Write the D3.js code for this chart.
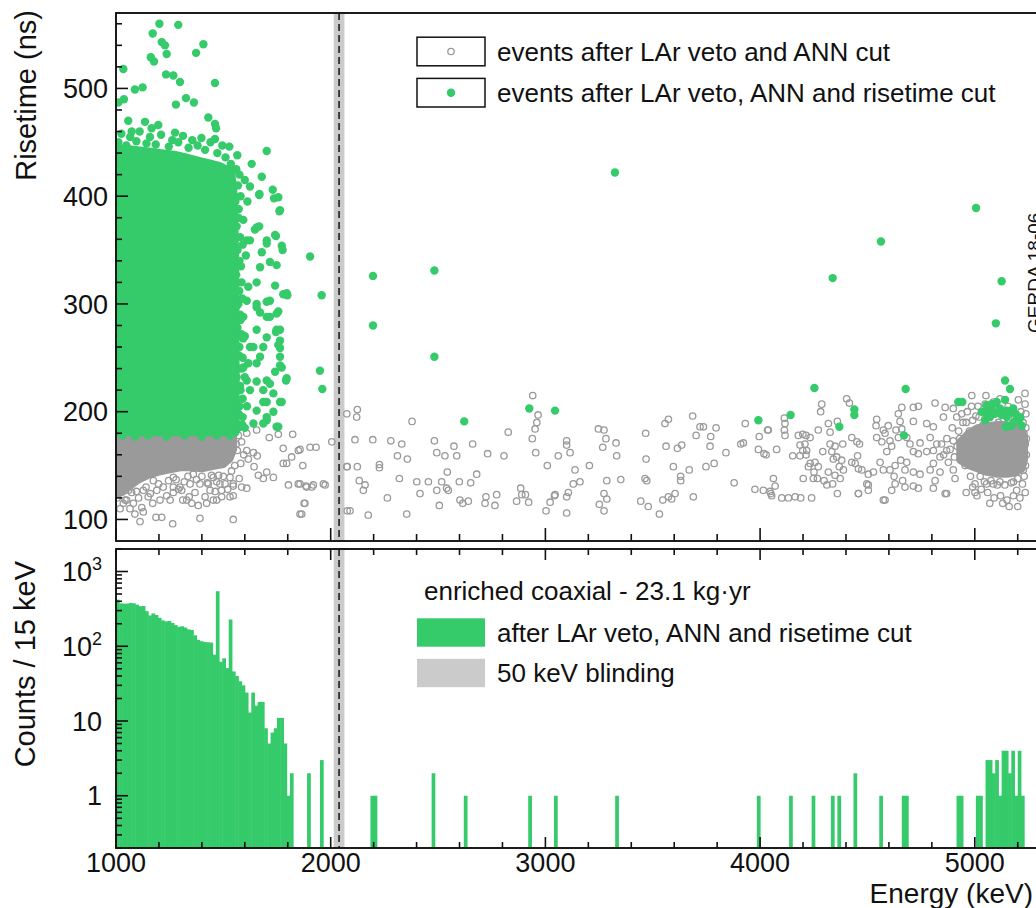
<!DOCTYPE html>
<html>
<head>
<meta charset="utf-8">
<script src="https://cdn.jsdelivr.net/npm/d3@7"></script>
<style>
html, body { margin: 0; padding: 0; background: #fff; }
svg { display: block; font-family: "Liberation Sans", Arial, Helvetica, sans-serif; }
</style>
</head>
<body>
<svg id="chart" width="1036" height="908"></svg>
<script>
// ---------------- data ----------------
const energyLabels = [1000, 2000, 3000, 4000, 5000];
const riseLabels = [100, 200, 300, 400, 500];
const countLabels = [1, 10, 100, 1000];
const qbb = 2039;                      // keV
const blindWindow = [2014, 2064];      // 50 keV blinded window
const exposureText = "enriched coaxial - 23.1 kg\u00b7yr";

// saturated population of risetime-accepted events (marker centres: upper / lower risetime edge)
const denseGreenEnergy = [1000, 1040, 1080, 1120, 1160, 1200, 1240, 1280, 1320, 1360, 1400, 1440, 1480, 1520, 1538, 1548, 1554, 1556];
const denseGreenHigh   = [443, 444, 443, 442, 441, 440, 439, 438, 436, 434, 432, 430, 428, 424, 418, 400, 340, 260];
const denseGreenLow    = [181, 181, 181, 181, 181, 181, 181, 181, 181, 181, 181, 181, 181, 181, 181, 181, 181, 181];

// saturated population of events before the risetime cut (below the cut)
const denseGrayEnergy = [1000, 1030, 1060, 1100, 1150, 1200, 1250, 1300, 1350, 1400, 1450, 1500, 1530, 1548];
const denseGrayHigh   = [178, 178, 178, 178, 178, 178, 178, 178, 178, 178, 178, 178, 178, 178];
const denseGrayLow    = [123, 125, 130, 136, 141, 144, 146, 148, 148, 147, 149, 151, 156, 165];

// alpha population around 5.1-5.2 MeV
const alphaGrayEnergy = [4930, 4970, 5010, 5050, 5100, 5150, 5190, 5220, 5232];
const alphaGrayHigh   = [172, 180, 185, 187, 188, 188, 186, 183, 176];
const alphaGrayLow    = [155, 150, 147, 144, 142, 142, 143, 147, 156];

// individual events after LAr veto, ANN and risetime cut [energy keV, risetime ns]
const greenEvents = [
[1202,560],[1290,559],[1171,551],[1213,543],[1228,540],[1236,532],[1407,541],[1373,533],[1162,529],[1177,525],
[1034,518],[1233,513],[1267,512],[1298,506],[1461,505],[1088,499],[1124,501],[1011,487],[1037,490],[1326,491],
[1363,487],[1279,485],[1430,473],[1461,467],[1466,463],[1057,470],[1135,469],[1197,466],[1166,463],[1073,460],
[1275,459],[1011,450],[1461,453],[1528,446],[1565,438],[1702,442],[1632,430],[1679,418],[1624,409],[1667,401],
[1730,406],[1736,398],[1756,399],[1764,387],[1761,386],[1612,395],[1668,402],[1593,378],[1647,369],[1655,371],
[1667,372],[1609,359],[1624,359],[1702,359],[1702,356],[1745,363],[1741,364],[1772,354],[1776,350],[1679,348],
[1904,344],[1717,339],[1748,336],[1671,334],[1795,310],[1779,309],[1798,308],[1741,317],[1655,320],[1616,316],
[1717,303],[1655,300],[1702,302],[1609,303],[1756,293],[1671,292],[1717,288],[1748,291],[1702,288],[1593,288],
[1655,297],[1748,276],[1655,276],[1764,276],[1745,274],[1702,269],[1585,272],[1764,266],[1756,262],[1764,259],
[1686,260],[1624,260],[1640,260],[1671,251],[1764,251],[1655,245],[1616,245],[1764,243],[1772,241],[1593,241],
[1741,237],[1795,231],[1792,229],[1600,232],[1609,229],[1702,229],[1655,228],[1717,226],[1624,220],[1686,220],
[1733,217],[1764,209],[1772,209],[1686,209],[1702,209],[1655,201],[1733,200],[1702,195],[1702,192],[1640,189],
[1686,189],[1756,186],[1748,186],
[1575,420],[1580,400],[1570,380],[1590,355],[1575,340],[1585,320],[1570,300],[1580,285],[1575,260],[1590,250],
[1570,240],[1580,220],[1575,205],[1590,195],[1570,185],[1600,185],[1610,205],[1600,270],[1605,345],[1600,415],
[1008,449],[1025,458],[1048,447],[1066,455],[1095,451],[1110,460],[1142,449],[1158,455],[1185,448],[1210,457],
[1246,446],[1262,452],[1290,450],[1312,456],[1338,445],[1355,452],[1380,447],[1398,454],[1415,443],[1440,450],
[1472,440],[1495,447],[1510,436],[1535,430],[1548,424],
[1560,425],[1568,410],[1556,395],[1572,388],[1562,372],[1578,362],[1566,350],[1582,335],[1560,327],[1574,312],
[1588,305],[1562,298],[1578,290],[1566,278],[1592,268],[1558,262],[1574,252],[1586,240],[1562,232],[1578,224],
[1590,212],[1560,210],[1572,198],[1588,188],[1558,190],
[1030,178],[1090,177],[1150,178],[1235,177],[1320,178],[1400,177],[1470,178],[1530,178],
[1958,308],[1950,238],[1961,221],
[2197,326],[2197,280],[2483,331],[2483,251],[2622,191],[2925,203],[3045,201],[3324,422],[3992,192],[4142,197],
[4253,222],[4338,324],[4369,186],[4439,202],[4439,197],[4563,358],[4670,178],[4678,221],[4923,209],[4942,209],
[5006,389],[5125,321],[5098,282],[5141,229],[5164,221],
[5032,200],[5055,198],[5071,204],[5086,207],[5102,209],[5048,192],[5071,195],[5094,198],[5141,211],[5149,201],
[5172,201],[5188,198],[5211,195],[5145,186],[5172,187],[5219,187],[5195,192],[5055,206],[5079,207],[5063,197],
[5086,200],[5117,203],[5149,195],[5164,200],[5179,203],[5195,197],[5211,194],[5179,190],[5149,186],[5125,197]
];

// individual events after LAr veto and ANN cut [energy keV, risetime ns]
const grayEvents = [
[1609,180],[1655,183],[1714,176],[1756,179],[1823,179],[1779,166],[1849,164],[1904,167],[1932,167],[2005,172],
[2075,198],[2075,149],[2077,108],[1870,150],[1795,152],[1779,152],[1818,158],[1702,144],[1733,139],[1686,138],
[1663,141],[1643,149],[1616,156],[1581,152],[1609,164],[1640,162],[1658,159],[1565,164],[1574,138],[1609,129],
[1546,131],[1585,130],[1531,121],[1546,122],[1803,132],[1849,133],[1885,131],[1912,130],[1966,133],[1974,132],
[1876,115],[1857,105],[1546,100],[1391,101],[1264,96],[1186,102],[1213,102],[1112,98],[1127,107],[1171,115],
[1252,118],[1353,115],[1383,113],[1422,115],[1469,118],[1492,121],[1453,118],[1065,110],[1088,105],[1484,133],
[1492,127],[1469,135],[1430,133],[1311,118],[1341,121],[1267,125],[1345,133],[1298,130],
[1042,118],[1081,115],[1120,111],[1150,121],[1190,127],[1205,118],[1236,122],[1267,130],[1306,127],[1329,118],
[1368,125],[1391,133],[1415,121],[1438,127],[1508,133],[1531,139],[1546,133],[1453,139],[1360,142],[1267,139],
[1174,136],[1127,127],[1073,125],[1034,115],[1019,110],
[1005,120],[1015,125],[1050,118],[1058,127],[1095,126],[1105,120],[1140,130],[1160,124],[1198,133],[1220,130],
[1245,136],[1280,137],[1290,128],[1318,135],[1335,140],[1375,137],[1400,140],[1425,134],[1445,141],[1462,126],
[1478,141],[1500,140],[1520,128],[1538,145],[1553,150],[1560,170],[1585,172],[1595,160],[1570,178],
[1857,165],[1857,133],[1888,130],[1919,132],[1880,115],[1865,105],[2124,202],[2121,195],[2077,149],[2113,174],
[2124,149],[2133,136],[2152,127],[2160,132],[2090,108],[2175,104],[2196,174],[2227,151],[2227,148],[2264,120],
[2280,173],[2320,138],[2311,159],[2331,170],[2357,156],[2354,105],[2379,191],[2401,135],[2416,124],[2455,135],
[2483,173],[2494,162],[2494,127],[2506,113],[2517,135],[2532,159],[2540,129],[2548,127],[2543,144],[2574,168],
[2587,159],[2599,135],[2602,118],[2615,115],[2641,117],[2652,134],[2661,170],[2680,142],[2723,121],[2719,115],
[2731,161],[2765,113],[2773,123],[2807,159],[2827,181],[2866,117],[2885,129],[2890,123],[2907,123],[2922,116],
[2941,215],[2939,175],[2952,184],[2960,190],[2966,197],[2955,162],[3009,150],[3003,108],[3022,116],[3045,123],
[3042,122],[3060,159],[3099,106],[3099,121],[3099,169],[3099,173],[3115,162],[3107,125],[3130,133],[3138,146],
[3161,135],[3205,150],[3247,184],[3273,183],[3267,167],[3282,175],[3273,124],[3286,119],[3251,114],[3273,108],
[3286,136],[3329,171],[3332,159],[3351,137],[3467,180],[3469,156],[3464,138],[3472,136],[3444,117],[3479,112],
[3531,105],[3557,189],[3573,193],[3562,168],[3615,166],[3635,169],[3596,149],[3630,140],[3630,136],[3670,146],
[3604,124],[3573,121],[3547,118],[3588,119],[3686,196],[3702,178],[3689,121],[3720,186],
[4403,212],[4416,208],[4287,207],[4282,200],[4113,194],[4116,189],[4113,183],[4116,178],[3931,189],[4035,183],
[3736,186],[3795,185],[3770,177],[3767,168],[3748,149],[3786,152],[3841,162],[3879,134],[3910,170],[3922,171],
[3996,177],[3992,165],[4018,161],[4028,160],[4038,183],[4077,165],[3976,128],[4015,127],[4046,126],[4054,122],
[4070,131],[4062,138],[4050,124],[4101,120],[4132,120],[4163,121],[4189,120],[4240,120],[4152,159],[4186,159],
[4199,164],[4209,170],[4186,169],[4178,178],[4199,179],[4214,178],[4233,176],[4233,152],[4256,153],[4271,149],
[4251,144],[4248,138],[4267,138],[4201,138],[4225,149],[4214,160],[4217,164],[4271,183],[4318,189],[4326,181],
[4360,191],[4326,170],[4349,168],[4385,170],[4357,158],[4341,156],[4380,155],[4388,146],[4369,149],[4349,141],
[4373,138],[4338,133],[4360,124],[4311,132],[4298,136],[4318,144],[4292,163],[4334,163],[4427,176],[4451,172],
[4463,170],[4454,159],[4443,152],[4427,153],[4458,147],[4474,146],[4504,142],[4528,144],[4497,133],[4504,127],
[4458,124],[4582,118],[4504,132],[4543,193],[4540,187],[4597,187],[4543,176],[4574,183],[4582,180],[4605,173],
[4567,172],[4590,163],[4613,168],[4644,176],[4633,183],[4652,191],[4660,204],[4644,198],[4660,184],[4714,204],
[4737,205],[4714,191],[4683,176],[4698,170],[4745,171],[4714,163],[4737,161],[4655,155],[4629,150],[4605,146],
[4624,140],[4629,133],[4613,127],[4574,146],[4559,153],[4683,153],[4675,146],[4714,144],[4745,142],[4714,131],
[4737,129],[4675,130],[4664,136],[4815,208],[4776,189],[4807,186],[4792,176],[4823,170],[4807,164],[4776,163],
[4807,152],[4838,158],[4792,146],[4838,144],[4815,136],[4862,124],[4807,129],[4900,146],[4908,138],[4877,153],
[4869,164],[4900,173],[4854,195],[4862,204],[4900,203],[4916,195],[4939,198],[4986,215],[5001,133],[5001,125],
[5055,133],[5086,133],[5117,135],[5180,135],[5195,127],[5226,146],[5226,153],[5052,215],[5048,207],[5117,212],
[5203,211],[5086,209],[5234,207],[5238,198],[5229,180],[5234,217],[4574,118],[4458,124],[4869,124],
[4960,190],[4975,182],[4990,192],[5020,195],[5040,188],[5110,190],[5130,185],[5160,180],[5200,182],[5235,170],
[5240,160],[5230,140],[5210,120],[5180,122],[5150,118],[5120,122],[5090,120],[5060,125],[5030,128],[4980,140],
[4955,150],[4940,160],[4930,175],[4960,125],[5160,112],[5200,112],
[4845,170],[4855,160],[4870,175],[4885,165],[4895,185],[4905,158],[4918,168],[4925,182],[4945,190],[4950,170],
[4965,200],[4970,158],[4985,205],[4995,150],[5005,196],[5015,205],[5025,140],[5040,200],[5045,135],[5065,200],
[5075,136],[5095,202],[5105,132],[5130,200],[5140,132],[5155,205],[5170,134],[5185,196],[5200,138],[5215,200],
[5225,190],[5238,185],[5240,175],[5236,150],[5222,133],[4990,130],[5010,122],[5070,115],[5130,115],[5235,125]
];

// energy spectrum after all cuts: 15 keV bins
const binWidth = 15;
const spectrumStart = 1000;
const spectrumCounts = [
420, 375, 372, 372, 380, 375, 360, 343, 345, 295, 258, 275, 262, 240, 222, 215, 218, 205, 192, 182,
185, 178, 168, 165, 140, 122, 117, 114, 113, 112, 77, 545, 62, 69, 51, 228, 46, 40, 34, 30,
24, 13, 24, 16, 18, 18, 8, 5, 7, 8, 11, 11, 5, 1, 2
];
// isolated bins at higher energy [bin low edge keV, counts]
const spectrumSparse = [
[1890,2],[1950,3],[2185,1],[2200,1],[2470,2],[2620,1],[2920,1],[3040,1],[3325,1],[3985,1],
[4135,1],[4240,1],[4330,1],[4360,1],[4435,2],[4555,1],[4660,1],[4675,1],[4915,1],[4930,1],
[5005,1],[5020,1],[5050,3],[5065,3],[5080,2],[5095,3],[5110,1],[5125,4],[5140,4],[5155,2],
[5170,4],[5185,1],[5200,4],[5215,1]
];

// ---------------- style ----------------
const GREEN = "#35ca6a";
const GRAY = "#9a9a9a";
const BLIND = "#cbcbcb";
const FONT_TICK = 27;
const FONT_TITLE = 28;
const FONT_LEG = 26;

// ---------------- layout & scales ----------------
const svg = d3.select("#chart");
const panelTop = { y0: 13, y1: 541 };
const panelBot = { y0: 549, y1: 848 };
const xE = d3.scaleLinear().domain([1000, 5300]).range([116, 1039.2]);
const yR = d3.scaleLinear().domain([80, 570]).range([panelTop.y1, panelTop.y0]);
const yC = d3.scaleLog().domain([0.2, 2000]).range([panelBot.y1, panelBot.y0]);
const xL = xE.range()[0], xR = xE.range()[1];

const defs = svg.append("defs");
defs.append("clipPath").attr("id", "clipTop").append("rect")
  .attr("x", xL).attr("y", panelTop.y0).attr("width", xR - xL).attr("height", panelTop.y1 - panelTop.y0);
defs.append("clipPath").attr("id", "clipBot").append("rect")
  .attr("x", xL).attr("y", panelBot.y0).attr("width", xR - xL).attr("height", panelBot.y1 - panelBot.y0);

// ---------------- blinding window ----------------
[panelTop, panelBot].forEach(p => {
  svg.append("rect").attr("x", xE(blindWindow[0])).attr("y", p.y0)
    .attr("width", xE(blindWindow[1]) - xE(blindWindow[0])).attr("height", p.y1 - p.y0)
    .attr("fill", BLIND);
});

// ---------------- top panel: risetime vs energy ----------------
const gTop = svg.append("g").attr("clip-path", "url(#clipTop)");

gTop.append("g").selectAll("circle").data(grayEvents).join("circle")
  .attr("cx", d => xE(d[0])).attr("cy", d => yR(d[1])).attr("r", 3.2)
  .attr("fill", "none").attr("stroke", GRAY).attr("stroke-width", 1.3);

function band(energy, high, low, color, width) {
  const rows = energy.map((e, i) => ({ e, hi: high[i], lo: low[i] }));
  const area = d3.area().x(d => xE(d.e)).y0(d => yR(d.lo)).y1(d => yR(d.hi));
  gTop.append("path").datum(rows).attr("d", area)
    .attr("fill", color).attr("stroke", color).attr("stroke-width", width)
    .attr("stroke-linejoin", "round");
}
band(denseGrayEnergy, denseGrayHigh, denseGrayLow, GRAY, 7);
band(alphaGrayEnergy, alphaGrayHigh, alphaGrayLow, GRAY, 7);
band(denseGreenEnergy, denseGreenHigh, denseGreenLow, GREEN, 8.4);

gTop.append("g").selectAll("circle").data(greenEvents).join("circle")
  .attr("cx", d => xE(d[0])).attr("cy", d => yR(d[1])).attr("r", 4.2)
  .attr("fill", GREEN);

// ---------------- bottom panel: spectrum ----------------
const bins = spectrumCounts.map((c, i) => [spectrumStart + i * binWidth, c])
  .concat(spectrumSparse).filter(d => d[1] > 0);
svg.append("g").attr("clip-path", "url(#clipBot)")
  .selectAll("rect").data(bins).join("rect")
  .attr("x", d => xE(d[0]))
  .attr("width", d => xE(d[0] + binWidth) - xE(d[0]) + 0.5)
  .attr("y", d => yC(d[1]))
  .attr("height", d => yC.range()[0] - yC(d[1]))
  .attr("fill", GREEN);

// Qbb dashed line through both panels
[panelTop, panelBot].forEach(p => {
  svg.append("line").attr("x1", xE(qbb)).attr("x2", xE(qbb))
    .attr("y1", p.y0).attr("y2", p.y1)
    .attr("stroke", "#111").attr("stroke-width", 1.5).attr("stroke-dasharray", "7,4");
});

// ---------------- axes ----------------
const axes = svg.append("g").attr("stroke", "#111").attr("stroke-width", 1.6);
// energy ticks
d3.range(1000, 5301, 200).forEach(e => {
  const major = e % 1000 === 0;
  const x = xE(e);
  axes.append("line").attr("x1", x).attr("x2", x).attr("y1", panelTop.y1).attr("y2", panelTop.y1 - (major ? 13 : 7));
  axes.append("line").attr("x1", x).attr("x2", x).attr("y1", panelBot.y0).attr("y2", panelBot.y0 + (major ? 11 : 6));
  axes.append("line").attr("x1", x).attr("x2", x).attr("y1", panelBot.y1).attr("y2", panelBot.y1 - (major ? 11 : 6));
});
// risetime ticks
d3.range(100, 570, 20).forEach(r => {
  const major = r % 100 === 0;
  axes.append("line").attr("x1", xL).attr("x2", xL + (major ? 12 : 6)).attr("y1", yR(r)).attr("y2", yR(r));
});
// count ticks
[0.1, 1, 10, 100, 1000].forEach(dec => {
  for (let m = 1; m <= 9; m++) {
    const v = dec * m;
    if (v < 0.2 || v > 2000) continue;
    const y = yC(v);
    axes.append("line").attr("x1", xL).attr("x2", xL + (m === 1 ? 12 : 6)).attr("y1", y).attr("y2", y);
  }
});

// frames
[panelTop, panelBot].forEach(p => {
  svg.append("rect").attr("x", xL).attr("y", p.y0).attr("width", xR - xL).attr("height", p.y1 - p.y0)
    .attr("fill", "none").attr("stroke", "#111").attr("stroke-width", 1.9);
});

// tick labels
const labels = svg.append("g").attr("fill", "#111").attr("font-size", FONT_TICK);
riseLabels.forEach(r => {
  labels.append("text").attr("x", 108).attr("y", yR(r) + 9.7).attr("text-anchor", "end").text(r);
});
energyLabels.forEach(e => {
  labels.append("text").attr("x", xE(e)).attr("y", 872).attr("text-anchor", "middle").text(e);
});
countLabels.forEach(c => {
  const t = labels.append("text").attr("x", 102).attr("y", yC(c) + 9.7).attr("text-anchor", "end");
  const p = Math.round(Math.log10(c));
  if (p < 2) t.text(c);
  else {
    t.append("tspan").text("10");
    t.append("tspan").attr("font-size", 18).attr("dy", -11).text(p);
  }
});

// axis titles
const titles = svg.append("g").attr("fill", "#111").attr("font-size", FONT_TITLE);
titles.append("text").attr("transform", "translate(36,10) rotate(-90)")
  .attr("text-anchor", "end").attr("font-size", 29).text("Risetime (ns)");
titles.append("text").attr("transform", "translate(35,561) rotate(-90)")
  .attr("text-anchor", "end").attr("font-size", 29).text("Counts / 15 keV");
titles.append("text").attr("x", 1033).attr("y", 903).attr("text-anchor", "end").text("Energy (keV)");

// stamp
svg.append("text").attr("transform", "translate(1041,333) rotate(-90)")
  .attr("font-size", 19).attr("fill", "#111").text("GERDA 18-06");

// ---------------- legends ----------------
const leg = svg.append("g").attr("font-size", FONT_LEG).attr("fill", "#111");
const topLegend = [
  { label: "events after LAr veto and ANN cut", kind: "open", cy: 51.5 },
  { label: "events after LAr veto, ANN and risetime cut", kind: "dot", cy: 92.7 }
];
topLegend.forEach(d => {
  leg.append("rect").attr("x", 417).attr("y", d.cy - 14.3).attr("width", 68).attr("height", 28.6)
    .attr("fill", "#fff").attr("stroke", "#111").attr("stroke-width", 1.5);
  if (d.kind === "open")
    leg.append("circle").attr("cx", 451).attr("cy", d.cy).attr("r", 3.2)
      .attr("fill", "none").attr("stroke", GRAY).attr("stroke-width", 1.3);
  else
    leg.append("circle").attr("cx", 451).attr("cy", d.cy).attr("r", 4.2).attr("fill", GREEN);
  leg.append("text").attr("x", 497).attr("y", d.cy + 9.4).text(d.label);
});

leg.append("text").attr("x", 424).attr("y", 599.5).text(exposureText);
const botLegend = [
  { label: "after LAr veto, ANN and risetime cut", color: GREEN, cy: 632.5 },
  { label: "50 keV blinding", color: BLIND, cy: 673 }
];
botLegend.forEach(d => {
  leg.append("rect").attr("x", 417).attr("y", d.cy - 14.2).attr("width", 68).attr("height", 28.4)
    .attr("fill", d.color);
  leg.append("text").attr("x", 497).attr("y", d.cy + 9.4).text(d.label);
});
</script>
</body>
</html>
